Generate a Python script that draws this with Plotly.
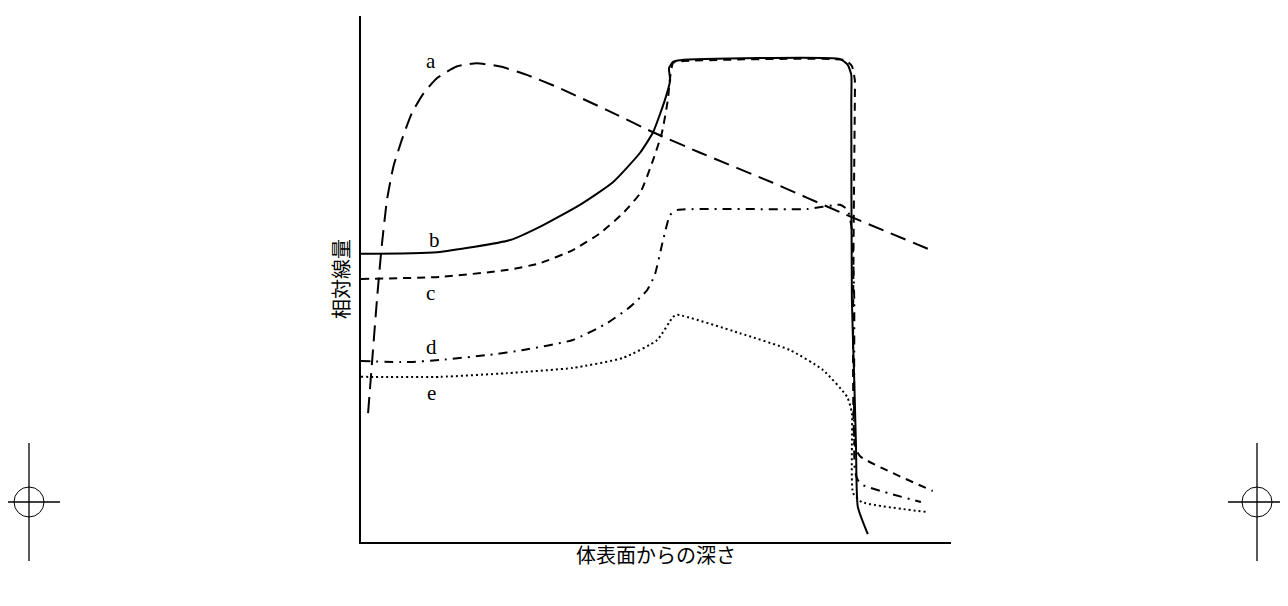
import plotly.graph_objects as go

# depth (x) and relative dose (y), both on a 0-100 scale
a_x = [1.2, 1.9, 2.7, 3.5, 4.4, 5.5, 6.9, 8.6, 10.6, 12.9, 16.2, 19.6, 23.6, 28.1, 33.2, 41.7, 49.5, 57.5, 69.8, 81.2, 96.6]
a_y = [24.5, 34.6, 46.0, 56.1, 65.0, 71.4, 76.4, 81.5, 85.3, 88.2, 90.4, 91.0, 90.4, 88.8, 86.5, 82.1, 77.9, 74.0, 68.3, 62.7, 55.5]

b_x = [0, 12.9, 25.3, 30.3, 37.1, 42.7, 47.3, 49.5, 51.5, 52.4, 52.2, 52.9, 54.1, 81.2, 82.5, 83.1, 83.1, 83.2, 83.6, 83.9, 84.2, 85.9]
b_y = [54.8, 55.1, 57.4, 59.9, 64.1, 68.4, 74.0, 77.9, 84.0, 87.8, 90.1, 91.3, 91.6, 91.8, 90.7, 88.8, 84.0, 46.0, 30.8, 18.1, 6.7, 1.5]

c_x = [0, 13.4, 24.7, 30.3, 35.9, 40.5, 44.4, 47.3, 49.5, 51.0, 52.0, 52.4, 52.9, 54.1, 82.0, 83.2, 83.7, 83.7, 83.7, 84.6, 96.9]
c_y = [50.0, 50.4, 51.7, 53.0, 55.5, 58.7, 62.5, 66.3, 72.6, 77.8, 84.0, 88.4, 91.1, 91.4, 91.6, 90.5, 87.8, 84.0, 18.4, 16.3, 9.7]

d_x = [0, 7.8, 13.4, 21.9, 27.5, 35.9, 41.7, 45.6, 48.5, 49.8, 51.2, 52.4, 53.6, 75.6, 81.2, 82.5, 83.2, 83.6, 83.7, 84.2, 85.1, 94.9]
d_y = [34.4, 34.2, 34.6, 35.6, 36.5, 38.4, 41.6, 44.7, 47.9, 50.8, 57.4, 62.2, 63.1, 63.3, 64.1, 63.1, 59.3, 46.0, 13.7, 11.8, 10.8, 7.6]

e_x = [0, 13.4, 24.7, 35.9, 44.4, 50.2, 52.9, 53.6, 64.2, 72.7, 78.3, 82.4, 83.2, 83.2, 83.4, 84.9, 95.9]
e_y = [31.4, 31.4, 32.1, 33.1, 35.0, 38.4, 42.8, 43.2, 39.7, 36.5, 32.7, 27.6, 24.5, 18.1, 9.3, 7.6, 5.7]

labels = ["a", "b", "c", "d", "e"]
label_x = [11.9, 12.4, 11.7, 11.9, 11.9]
label_y = [91.4, 57.4, 47.3, 37.1, 28.3]

series = [
    (a_x, a_y, "16px,8px"),
    (b_x, b_y, "solid"),
    (c_x, c_y, "8px,6px"),
    (d_x, d_y, "9px,6px,2px,6px"),
    (e_x, e_y, "2px,3px"),
]

fig = go.Figure()
for (xs, ys, dash), name in zip(series, labels):
    fig.add_trace(go.Scatter(
        x=xs, y=ys, mode="lines", name=name,
        line=dict(color="black", width=2, dash=dash, shape="spline", smoothing=0.5),
        hoverinfo="skip",
    ))

for lab, lx, ly in zip(labels, label_x, label_y):
    fig.add_annotation(x=lx, y=ly, text=lab, showarrow=False,
                       font=dict(family="Liberation Serif", size=21, color="black"))

# page has an 8px body margin, so the figure is drawn 8px in from the window corner
OFF = 8
W, H = 1288 - OFF, 606 - OFF
L, R, T, B = 361 - OFF, 951 - OFF, 16 - OFF, 542 - OFF
pw, ph = R - L, B - T
def px(v): return (v - OFF - L) / pw
def py(v): return (B - (v - OFF)) / ph

# crop marks on both sides of the page
marks = []
for cx in (29, 1257):
    marks.append(dict(type="circle", xref="paper", yref="paper",
                      x0=px(cx - 15), x1=px(cx + 15), y0=py(487), y1=py(517),
                      line=dict(color="black", width=1)))
    marks.append(dict(type="line", xref="paper", yref="paper",
                      x0=px(cx), x1=px(cx), y0=py(443), y1=py(561),
                      line=dict(color="black", width=1.3)))
    marks.append(dict(type="line", xref="paper", yref="paper",
                      x0=px(cx - 29), x1=px(cx + 31), y0=py(502), y1=py(502),
                      line=dict(color="black", width=1.3)))

fig.update_layout(
    width=W, height=H,
    margin=dict(l=L, r=W - R, t=T, b=H - B),
    plot_bgcolor="white", paper_bgcolor="white",
    showlegend=False,
    shapes=marks,
    font=dict(family="Noto Sans CJK JP", color="black"),
)
fig.update_xaxes(range=[0, 100], showline=True, linecolor="black", linewidth=1.5,
                 showgrid=False, zeroline=False, showticklabels=False, ticks="",
                 title=dict(text="体表面からの深さ", font=dict(size=20), standoff=6))
fig.update_yaxes(range=[0, 100], showline=True, linecolor="black", linewidth=1.5,
                 showgrid=False, zeroline=False, showticklabels=False, ticks="",
                 title=dict(text="相対線量", font=dict(size=20), standoff=4))

fig.write_html("out.html")
